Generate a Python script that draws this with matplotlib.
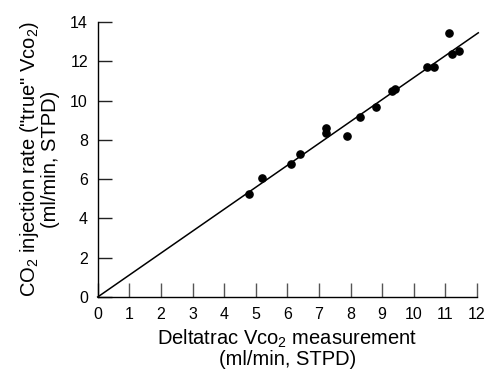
import matplotlib
matplotlib.use("Agg")
import matplotlib.pyplot as plt
import numpy as np

plt.rcParams['font.family'] = ['Liberation Sans', 'DejaVu Sans']
plt.rcParams['mathtext.fontset'] = 'custom'
plt.rcParams['mathtext.rm'] = 'Liberation Sans'
plt.rcParams['mathtext.it'] = 'Liberation Sans'
plt.rcParams['mathtext.default'] = 'regular'

# Data
deltatrac = [4.79, 5.20, 6.10, 6.40, 7.21, 7.21, 7.90, 8.31, 8.80, 9.31, 9.41,
             10.42, 10.63, 11.12, 11.20, 11.44]
injection = [5.24, 6.07, 6.77, 7.26, 8.58, 8.36, 8.18, 9.18, 9.67, 10.48, 10.57,
             11.69, 11.69, 13.42, 12.38, 12.50]
line_x = [0, 12.04]
slope = 1.117
x_ticks = list(range(0, 13))
y_ticks = list(range(0, 15, 2))

fig = plt.figure(figsize=(4.87, 3.72), dpi=100)
ax = fig.add_axes([0.2006, 0.2016, 0.7789, 0.7393])

ax.plot(line_x, [slope * v for v in line_x], color='black', lw=1.1, clip_on=False)
ax.plot(deltatrac, injection, 'o', color='black', ms=5.2, mec='black')

ax.set_xlim(0, 12)
ax.set_ylim(0, 14)
ax.set_xticks(x_ticks)
ax.set_yticks(y_ticks)
for s in ['top', 'right']:
    ax.spines[s].set_visible(False)
for s in ['left', 'bottom']:
    ax.spines[s].set_linewidth(1.0)
ax.xaxis.set_tick_params(which='major', direction='in', length=10, width=1.0,
                         color='#555555', labelsize=11.5, pad=7, bottom=True, top=False)
ax.yaxis.set_tick_params(which='major', direction='in', length=10, width=1.0,
                         color='#222222', labelsize=11.5, pad=7, left=True, right=False)

ax.set_xlabel("Deltatrac Vᴄᴏ$_2$ measurement\n(ml/min, STPD)", fontsize=14.5, labelpad=4,
              linespacing=1.0)
ax.set_ylabel("CO$_2$ injection rate (\"true\" Vᴄᴏ$_2$)\n(ml/min, STPD)", fontsize=14.5, labelpad=7,
              linespacing=1.0)

fig.savefig("out.png", dpi=100)
